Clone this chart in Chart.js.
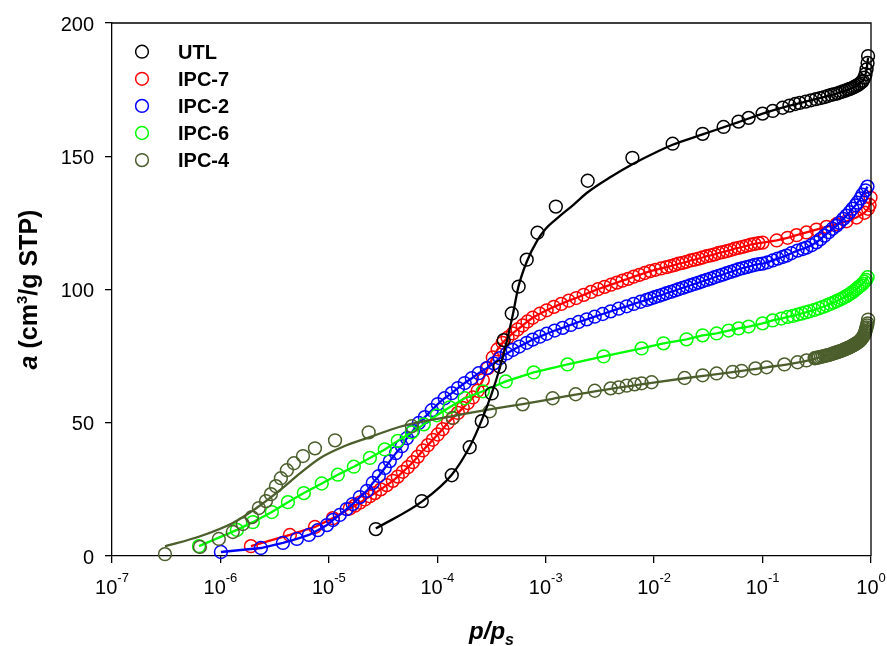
<!DOCTYPE html>
<html lang="en">
<head>
  <meta charset="UTF-8" />
  <title>Isotermy UTL / IPC</title>
  <script src="https://cdn.jsdelivr.net/npm/chart.js@4.4.1/dist/chart.umd.min.js"></script>
  <style>
    html, body { margin: 0; padding: 0; background: #ffffff; }
    #wrap { width: 887px; height: 646px; }
  </style>
</head>
<body>
<div id="wrap"><canvas id="isoChart" width="887" height="646"></canvas></div>
<script>
  // axis ticks
  const xTicks = [1e-7, 1e-6, 1e-5, 1e-4, 1e-3, 1e-2, 1e-1, 1];
  const xTickExp = ['-7', '-6', '-5', '-4', '-3', '-2', '-1', '0'];
  const yTicks = [0, 50, 100, 150, 200];

  // UTL
  const utlP = [2.71e-5, 7.2e-5, 1.36e-4, 1.99e-4, 2.57e-4, 3.18e-4, 3.77e-4, 4.1e-4, 4.86e-4, 5.63e-4, 6.68e-4, 8.4e-4, 1.24e-3, 2.44e-3, 6.3e-3, 1.48e-2, 2.8e-2, 4.37e-2, 6.0e-2, 7.44e-2, 0.1, 0.124, 0.153, 0.177, 0.2, 0.22, 0.25, 0.28, 0.31, 0.34, 0.37, 0.4, 0.43, 0.46, 0.49, 0.52, 0.55, 0.58, 0.61, 0.64, 0.67, 0.7, 0.73, 0.76, 0.79, 0.82, 0.84, 0.87, 0.89, 0.91, 0.93, 0.94];
  const utlA = [10.1, 20.6, 30.3, 40.8, 50.6, 61.0, 71.0, 81.0, 91.0, 101.1, 111.2, 121.3, 131.1, 140.8, 149.4, 154.7, 158.4, 161.0, 163.0, 164.4, 166.0, 167.0, 168.2, 169.0, 169.6, 170.0, 170.5, 171.0, 171.4, 171.8, 172.2, 172.6, 173.0, 173.3, 173.6, 174.0, 174.3, 174.6, 175.0, 175.3, 175.6, 176.0, 176.4, 176.8, 177.3, 177.9, 178.3, 179.5, 180.8, 182.6, 185.0, 187.6];
  const utlFitP = [2.71e-5, 7.2e-5, 1.36e-4, 1.99e-4, 2.57e-4, 3.18e-4, 3.8e-4, 4.4e-4, 5.0e-4, 5.6e-4, 6.7e-4, 8.4e-4, 1.0e-3, 1.24e-3, 1.8e-3, 2.44e-3, 4.0e-3, 6.3e-3, 1.1e-2, 1.48e-2, 2.8e-2, 6.0e-2, 0.1, 0.177, 0.3, 0.5, 0.7, 0.82, 0.87, 0.91, 0.94];
  const utlFitA = [10.3, 20.4, 30.5, 41.0, 51.0, 61.0, 71.0, 81.0, 91.0, 101.0, 110.5, 118.5, 122.8, 126.3, 131.8, 136.5, 142.3, 147.0, 152.0, 154.3, 158.2, 162.8, 166.0, 169.0, 171.3, 173.8, 176.0, 177.9, 179.4, 182.6, 187.0];

  // IPC-7
  const ipc7P = [1.91e-6, 4.37e-6, 7.44e-6, 1.09e-5, 1.56e-5, 1.74e-5, 1.93e-5, 2.15e-5, 2.39e-5, 2.66e-5, 3.01e-5, 3.42e-5, 3.89e-5, 4.32e-5, 4.81e-5, 5.35e-5, 5.95e-5, 6.62e-5, 7.36e-5, 8.18e-5, 9.1e-5, 1.01e-4, 1.12e-4, 1.25e-4, 1.39e-4, 1.55e-4, 1.72e-4, 1.91e-4, 2.13e-4, 2.36e-4, 2.63e-4, 2.92e-4, 3.25e-4, 3.6e-4, 4.0e-4, 4.45e-4, 4.96e-4, 5.5e-4, 6.13e-4, 6.8e-4, 7.58e-4, 8.82e-4, 1.02e-3, 1.19e-3, 1.39e-3, 1.63e-3, 1.91e-3, 2.24e-3, 2.62e-3, 3.03e-3, 3.49e-3, 4.0e-3, 4.54e-3, 5.1e-3, 5.75e-3, 6.48e-3, 7.3e-3, 8.2e-3, 9.2e-3, 1.03e-2, 1.16e-2, 1.3e-2, 1.42e-2, 1.55e-2, 1.68e-2, 1.83e-2, 1.99e-2, 2.17e-2, 2.36e-2, 2.57e-2, 2.8e-2, 3.05e-2, 3.32e-2, 3.61e-2, 3.93e-2, 4.28e-2, 4.66e-2, 5.07e-2, 5.52e-2, 6.01e-2, 6.54e-2, 7.12e-2, 7.75e-2, 8.43e-2, 9.18e-2, 0.1, 0.135, 0.17, 0.206, 0.254, 0.314, 0.389, 0.48, 0.594, 0.735, 0.87, 0.94, 0.97, 0.99];
  const ipc7A = [3.7, 7.9, 10.9, 14.2, 17.8, 18.9, 20.0, 21.2, 22.4, 23.6, 25.0, 26.6, 28.2, 29.8, 31.6, 33.3, 35.2, 37.3, 39.6, 41.6, 43.6, 45.6, 47.6, 50.0, 51.8, 53.7, 55.6, 57.4, 59.5, 62.0, 66.0, 70.5, 74.5, 77.5, 80.0, 81.9, 83.5, 85.0, 86.5, 88.0, 89.4, 90.9, 92.2, 93.5, 94.6, 95.8, 96.8, 98.0, 99.1, 100.1, 101.0, 101.8, 102.6, 103.3, 104.0, 104.8, 105.5, 106.2, 106.9, 107.4, 107.9, 108.4, 108.8, 109.2, 109.7, 110.0, 110.4, 110.9, 111.2, 111.6, 112.0, 112.5, 112.8, 113.2, 113.7, 114.0, 114.4, 114.8, 115.3, 115.6, 116.0, 116.4, 116.8, 117.1, 117.4, 117.6, 118.4, 119.4, 120.4, 121.4, 122.5, 123.5, 124.5, 125.6, 127.0, 128.8, 130.3, 131.7, 134.5];

  // IPC-2
  const ipc2P = [1.01e-6, 2.36e-6, 3.77e-6, 5.07e-6, 6.54e-6, 7.92e-6, 9.6e-6, 1.09e-5, 1.26e-5, 1.46e-5, 1.66e-5, 1.93e-5, 2.24e-5, 2.54e-5, 2.89e-5, 3.28e-5, 3.65e-5, 4.15e-5, 4.71e-5, 5.24e-5, 5.95e-5, 6.75e-5, 7.67e-5, 8.89e-5, 1.01e-4, 1.17e-4, 1.36e-4, 1.55e-4, 1.79e-4, 2.08e-4, 2.41e-4, 2.86e-4, 3.32e-4, 3.77e-4, 4.37e-4, 4.96e-4, 5.7e-4, 6.68e-4, 7.58e-4, 8.82e-4, 1.02e-3, 1.21e-3, 1.43e-3, 1.7e-3, 2.01e-3, 2.39e-3, 2.83e-3, 3.35e-3, 3.97e-3, 4.71e-3, 5.58e-3, 6.47e-3, 7.5e-3, 8.54e-3, 9.28e-3, 1.01e-2, 1.10e-2, 1.2e-2, 1.3e-2, 1.42e-2, 1.55e-2, 1.68e-2, 1.83e-2, 1.99e-2, 2.17e-2, 2.36e-2, 2.57e-2, 2.8e-2, 3.05e-2, 3.32e-2, 3.61e-2, 3.93e-2, 4.28e-2, 4.66e-2, 5.07e-2, 5.52e-2, 6.01e-2, 6.54e-2, 7.12e-2, 7.75e-2, 8.43e-2, 9.2e-2, 0.1, 0.111, 0.124, 0.138, 0.153, 0.166, 0.184, 0.21, 0.235, 0.254, 0.283, 0.314, 0.342, 0.373, 0.406, 0.441, 0.48, 0.51, 0.555, 0.594, 0.635, 0.674, 0.72, 0.75, 0.8, 0.834, 0.89, 0.928];
  const ipc2A = [1.5, 3.0, 4.9, 6.4, 7.9, 9.7, 11.6, 13.5, 15.4, 17.6, 19.5, 22.1, 24.4, 27.4, 30.0, 33.0, 35.6, 38.6, 41.2, 44.2, 46.9, 49.9, 52.1, 54.7, 57.0, 59.2, 61.1, 63.0, 64.9, 66.7, 68.6, 70.5, 72.3, 74.2, 76.0, 77.3, 78.6, 80.0, 81.2, 82.3, 83.4, 84.6, 85.6, 86.7, 87.8, 88.8, 89.8, 90.8, 91.8, 92.8, 93.7, 94.6, 95.4, 96.1, 96.6, 97.1, 97.6, 98.1, 98.6, 99.1, 99.6, 100.1, 100.6, 101.1, 101.6, 102.1, 102.6, 103.1, 103.6, 104.1, 104.6, 105.1, 105.6, 106.1, 106.6, 107.1, 107.6, 108.0, 108.4, 108.8, 109.2, 109.5, 109.7, 110.2, 110.9, 111.6, 112.2, 112.7, 113.6, 114.6, 115.2, 115.7, 116.6, 117.7, 118.9, 120.2, 121.5, 122.8, 123.9, 125.0, 126.5, 127.7, 129.0, 130.3, 131.6, 132.6, 134.2, 135.6, 137.2, 138.6];

  // IPC-6
  const ipc6P = [6.34e-7, 1.42e-6, 1.99e-6, 2.98e-6, 4.19e-6, 5.88e-6, 8.6e-6, 1.21e-5, 1.70e-5, 2.39e-5, 3.28e-5, 4.32e-5, 5.82e-5, 7.5e-5, 9.9e-5, 1.30e-4, 1.79e-4, 2.63e-4, 4.28e-4, 7.75e-4, 1.59e-3, 3.42e-3, 7.67e-3, 1.22e-2, 1.99e-2, 2.8e-2, 3.77e-2, 4.86e-2, 6.01e-2, 7.44e-2, 0.1, 0.124, 0.149, 0.17, 0.19, 0.21, 0.23, 0.25, 0.27, 0.3, 0.33, 0.36, 0.39, 0.42, 0.45, 0.48, 0.51, 0.54, 0.57, 0.6, 0.63, 0.66, 0.69, 0.72, 0.75, 0.78, 0.81, 0.84, 0.87, 0.9, 0.93];
  const ipc6A = [3.7, 9.8, 12.7, 16.5, 20.2, 23.6, 27.2, 30.5, 33.5, 36.8, 40.0, 43.2, 46.4, 49.4, 52.8, 55.8, 59.2, 61.8, 65.5, 68.9, 71.9, 74.9, 77.9, 79.8, 81.3, 82.8, 83.5, 84.6, 85.4, 86.1, 87.3, 88.4, 89.1, 89.7, 90.1, 90.6, 91.0, 91.4, 91.8, 92.3, 92.9, 93.5, 94.0, 94.6, 95.1, 95.6, 96.1, 96.6, 97.1, 97.6, 98.2, 98.7, 99.3, 99.9, 100.5, 101.1, 101.6, 102.2, 102.9, 103.6, 104.6];

  // IPC-4
  const ipc4P = [3.08e-7, 6.47e-7, 9.67e-7, 1.30e-6, 1.61e-6, 1.95e-6, 2.26e-6, 2.63e-6, 2.92e-6, 3.25e-6, 3.61e-6, 4.1e-6, 4.76e-6, 5.77e-6, 7.44e-6, 1.14e-5, 2.33e-5, 5.82e-5, 1.39e-4, 3.05e-4, 6.13e-4, 1.16e-3, 1.89e-3, 2.83e-3, 3.97e-3, 4.71e-3, 5.58e-3, 6.61e-3, 7.67e-3, 9.48e-3, 1.91e-2, 2.8e-2, 3.77e-2, 5.3e-2, 6.4e-2, 8.6e-2, 0.109, 0.159, 0.21, 0.254, 0.302, 0.31, 0.32, 0.33, 0.345, 0.36, 0.375, 0.39, 0.405, 0.42, 0.435, 0.45, 0.465, 0.48, 0.495, 0.51, 0.525, 0.54, 0.555, 0.57, 0.585, 0.6, 0.615, 0.63, 0.645, 0.66, 0.675, 0.69, 0.705, 0.72, 0.735, 0.75, 0.765, 0.78, 0.795, 0.81, 0.825, 0.84, 0.855, 0.87, 0.88, 0.89, 0.9, 0.91, 0.92, 0.93, 0.94];
  const ipc4A = [0.7, 3.4, 6.4, 9.0, 12.0, 14.6, 18.0, 20.6, 23.2, 26.2, 29.2, 32.2, 34.8, 37.5, 40.4, 43.4, 46.4, 48.7, 51.8, 54.3, 56.9, 59.2, 60.7, 62.0, 62.9, 63.3, 63.9, 64.4, 64.8, 65.2, 66.8, 67.8, 68.5, 69.1, 69.5, 70.4, 70.8, 71.9, 72.7, 73.4, 74.2, 74.3, 74.4, 74.5, 74.7, 74.9, 75.1, 75.3, 75.4, 75.6, 75.8, 76.0, 76.2, 76.4, 76.6, 76.8, 76.9, 77.1, 77.3, 77.5, 77.7, 77.9, 78.1, 78.3, 78.5, 78.7, 78.9, 79.1, 79.4, 79.6, 79.8, 80.1, 80.3, 80.6, 80.9, 81.3, 81.7, 82.1, 82.6, 83.2, 83.8, 84.4, 85.1, 85.8, 86.5, 87.3, 88.7];
  const ipc4FitP = [3.08e-7, 6.5e-7, 1.3e-6, 2.22e-6, 3.54e-6, 5.41e-6, 8.27e-6, 1.35e-5, 2.39e-5, 4.52e-5, 1.39e-4, 3.05e-4, 6.13e-4, 1.16e-3, 2.83e-3, 9.48e-3, 1.91e-2, 5.3e-2, 0.109, 0.21, 0.302, 0.5, 0.7, 0.81, 0.87, 0.91, 0.94];
  const ipc4FitA = [3.6, 7.4, 12.4, 18.4, 24.7, 31.0, 36.7, 41.0, 44.6, 48.5, 52.5, 55.0, 57.0, 59.0, 61.8, 65.0, 66.7, 69.0, 70.8, 72.6, 74.0, 76.6, 79.3, 81.1, 83.0, 85.4, 88.0];

  const FONT = '"Liberation Sans", Arial, sans-serif';
  const OLIVE = '#4b5e2c';

  const series = [
    { name: 'UTL',   color: '#000000', p: utlP,  a: utlA,  fitP: utlFitP,  fitA: utlFitA,  order: 1 },
    { name: 'IPC-7', color: '#ff0000', p: ipc7P, a: ipc7A, fitP: ipc7P,    fitA: ipc7A,    order: 5 },
    { name: 'IPC-2', color: '#0000ff', p: ipc2P, a: ipc2A, fitP: ipc2P,    fitA: ipc2A,    order: 4 },
    { name: 'IPC-6', color: '#00ff00', p: ipc6P, a: ipc6A, fitP: ipc6P,    fitA: ipc6A,    order: 3 },
    { name: 'IPC-4', color: OLIVE,     p: ipc4P, a: ipc4A, fitP: ipc4FitP, fitA: ipc4FitA, order: 2 }
  ];

  function zip(xs, ys) {
    return xs.map((v, i) => ({ x: v, y: ys[i] }));
  }

  const datasets = [];
  series.forEach(s => {
    datasets.push({
      label: s.name + ' fit',
      data: zip(s.fitP, s.fitA),
      showLine: true,
      borderColor: s.color,
      borderWidth: 2.3,
      pointRadius: 0,
      tension: 0,
      cubicInterpolationMode: (s.fitP === s.p) ? 'default' : 'monotone',
      clip: false,
      order: s.order
    });
    datasets.push({
      label: s.name,
      data: zip(s.p, s.a),
      showLine: false,
      pointStyle: 'circle',
      pointRadius: 6.4,
      pointBorderWidth: 1.5,
      pointBorderColor: s.color,
      pointBackgroundColor: 'rgba(0,0,0,0)',
      clip: false,
      order: s.order
    });
  });

  // draws frame, tick labels, titles and legend
  const textPlugin = {
    id: 'isoText',
    afterDraw(chart) {
      const { ctx, chartArea: a, scales: { x, y } } = chart;
      ctx.save();

      // top and right frame
      ctx.strokeStyle = '#000';
      ctx.lineWidth = 1.3;
      ctx.beginPath();
      ctx.moveTo(a.left, a.top);
      ctx.lineTo(a.right, a.top);
      ctx.lineTo(a.right, a.bottom);
      ctx.stroke();

      ctx.fillStyle = '#000';
      ctx.textBaseline = 'alphabetic';

      // y tick labels
      ctx.font = '20px ' + FONT;
      ctx.textAlign = 'right';
      yTicks.forEach(v => ctx.fillText(String(v), a.left - 18, y.getPixelForValue(v) + 7.5));

      // x tick labels 10^n
      ctx.textAlign = 'left';
      xTicks.forEach((v, i) => {
        const px = x.getPixelForValue(v);
        ctx.font = '20px ' + FONT;
        const wb = ctx.measureText('10').width;
        ctx.font = '13px ' + FONT;
        const we = ctx.measureText(xTickExp[i]).width;
        const left = px - (wb + we) / 2;
        ctx.font = '20px ' + FONT;
        ctx.fillText('10', left, 593.5);
        ctx.font = '13px ' + FONT;
        ctx.fillText(xTickExp[i], left + wb, 582);
      });

      // y axis title
      const yParts = [
        { t: 'a', f: 'italic bold 25px ' + FONT, dy: 0 },
        { t: ' (cm', f: 'bold 25px ' + FONT, dy: 0 },
        { t: '3', f: 'bold 15px ' + FONT, dy: -10 },
        { t: '/g STP)', f: 'bold 25px ' + FONT, dy: 0 }
      ];
      ctx.save();
      ctx.translate(37, (a.top + a.bottom) / 2);
      ctx.rotate(-Math.PI / 2);
      drawParts(ctx, yParts, 0, 0);
      ctx.restore();

      // x axis title
      const xParts = [
        { t: 'p/p', f: 'italic bold 24px ' + FONT, dy: 0 },
        { t: 's', f: 'italic bold 16px ' + FONT, dy: 6 }
      ];
      drawParts(ctx, xParts, (a.left + a.right) / 2, 639);

      // legend
      series.forEach((s, i) => {
        const cy = 51.7 + i * 27.1;
        ctx.beginPath();
        ctx.arc(142, cy, 6.4, 0, Math.PI * 2);
        ctx.strokeStyle = s.color;
        ctx.lineWidth = 1.5;
        ctx.stroke();
        ctx.font = 'bold 20px ' + FONT;
        ctx.textAlign = 'left';
        ctx.fillStyle = '#000';
        ctx.fillText(s.name, 178, cy + 7);
      });

      ctx.restore();
    }
  };

  function drawParts(ctx, parts, cx, baseY) {
    let w = 0;
    parts.forEach(p => { ctx.font = p.f; p.w = ctx.measureText(p.t).width; w += p.w; });
    let xx = cx - w / 2;
    ctx.textAlign = 'left';
    parts.forEach(p => {
      ctx.font = p.f;
      ctx.fillText(p.t, xx, baseY + p.dy);
      xx += p.w;
    });
  }

  const axisGrid = { display: true, drawOnChartArea: false, drawTicks: true, tickLength: 7, color: '#000', lineWidth: 1.3 };

  new Chart(document.getElementById('isoChart').getContext('2d'), {
    type: 'scatter',
    data: { datasets: datasets },
    options: {
      responsive: false,
      animation: false,
      devicePixelRatio: 1,
      layout: { padding: { left: 105, right: 16, top: 23, bottom: 83 } },
      plugins: { legend: { display: false }, tooltip: { enabled: false } },
      scales: {
        x: {
          type: 'logarithmic',
          min: 1e-7,
          max: 1,
          afterBuildTicks: s => { s.ticks = xTicks.map(v => ({ value: v })); },
          ticks: { display: false },
          grid: axisGrid,
          border: { display: true, color: '#000', width: 1.3 }
        },
        y: {
          type: 'linear',
          min: 0,
          max: 200,
          afterBuildTicks: s => { s.ticks = yTicks.map(v => ({ value: v })); },
          ticks: { display: false },
          grid: axisGrid,
          border: { display: true, color: '#000', width: 1.3 }
        }
      }
    },
    plugins: [textPlugin]
  });
</script>
</body>
</html>
